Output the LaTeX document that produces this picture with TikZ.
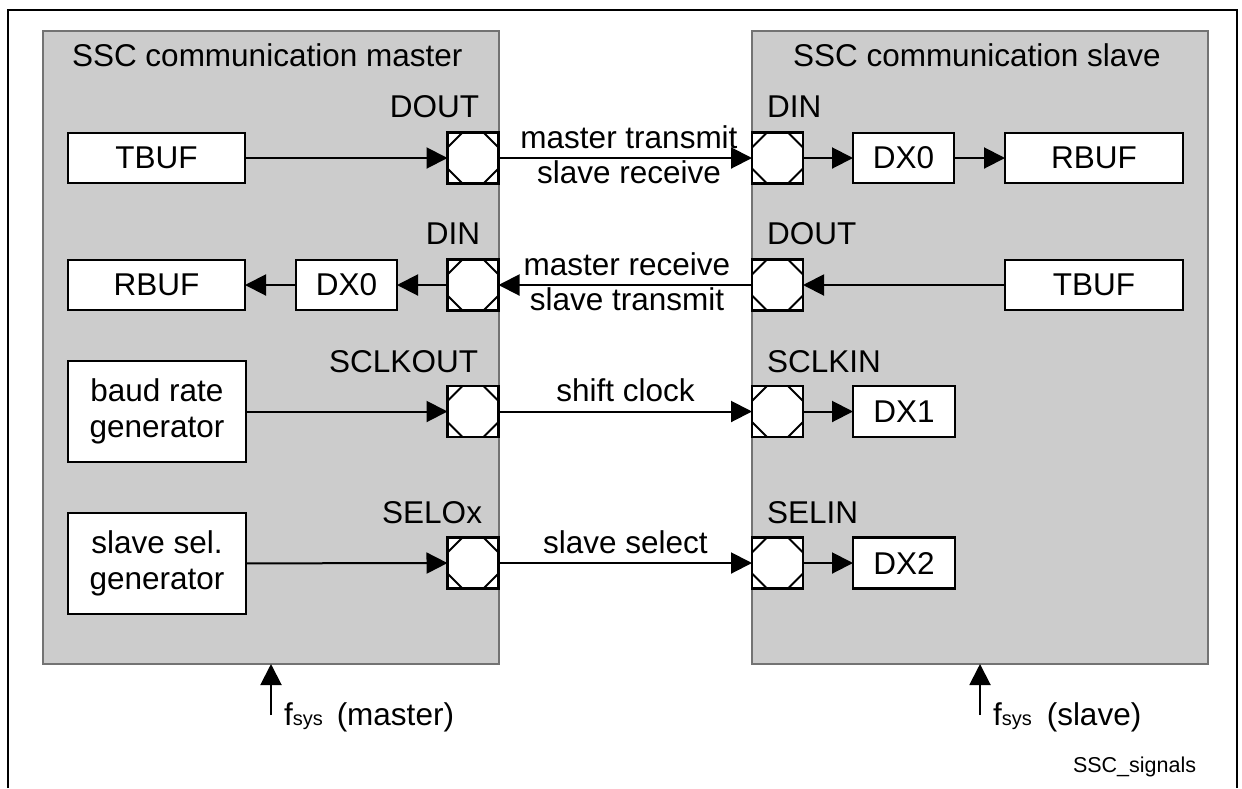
\documentclass[tikz,border=0pt]{standalone}
\usepackage{fontspec}
\setmainfont{Liberation Sans}
\usetikzlibrary{arrows.meta}
\newcommand\pinoct[1]{\draw[line width=1.8pt] (#1.north west) ++(15,0) -- ++(-15,15) (#1.north east) ++(-15,0) -- ++(15,15) (#1.south west) ++(15,0) -- ++(-15,-15) (#1.south east) ++(-15,0) -- ++(15,-15);}
\begin{document}
\begin{tikzpicture}[x=1pt,y=-1pt,
  every node/.style={font=\fontsize{31.5}{36}\selectfont, inner sep=0pt, outer sep=0pt},
  unit/.style={draw=black!55, fill=black!20, line width=1.6pt, minimum width=456pt, minimum height=633pt},
  blk/.style={draw, fill=white, line width=2.5pt, align=center, minimum height=50pt},
  pinbox/.style={draw, fill=white, line width=2.4pt, minimum size=51pt},
  conn/.style={line width=2pt, -{Triangle[length=21pt,width=21pt]}},
  small/.style={font=\fontsize{21.5}{24}\selectfont}
]
\useasboundingbox (0,0) rectangle (1242,788);
\draw[line width=2.2pt] (8,788) -- (8,10) -- (1237,10) -- (1237,788);

% units
\node[unit] (master) at (271,347.5) {};
\node[unit] (slave) at (980,347.5) {};
\node[anchor=base west] (mtitle) at (72,66) {SSC communication master};
\node[anchor=base west] (stitle) at (793,66) {SSC communication slave};

% master blocks
\node[blk, minimum width=177pt] (mtbuf) at (156.5,158) {TBUF};
\node[blk, minimum width=177pt] (mrbuf) at (156.5,285) {RBUF};
\node[blk, minimum width=101pt] (mdx0) at (346.5,285) {DX0};
\node[blk, minimum width=178pt, minimum height=101pt] (baud) at (157,411.5) {baud rate\\generator};
\node[blk, minimum width=178pt, minimum height=101pt] (ssg) at (157,563.5) {slave sel.\\generator};

% slave blocks
\node[blk, minimum width=101pt] (sdx0) at (903.5,158) {DX0};
\node[blk, minimum width=178pt] (srbuf) at (1094,158) {RBUF};
\node[blk, minimum width=178pt] (stbuf) at (1094,285) {TBUF};
\node[blk, minimum width=102pt, minimum height=51pt] (sdx1) at (904,411.5) {DX1};
\node[blk, minimum width=102pt, minimum height=51pt] (sdx2) at (904,563) {DX2};

% pins
\node[pinbox] (mdout) at (473,158) {};
\node[pinbox] (mdin) at (473,285) {};
\node[pinbox] (msclk) at (473,411.5) {};
\node[pinbox] (msel) at (473,563) {};
\node[pinbox] (sdin) at (777.5,158) {};
\node[pinbox] (sdout) at (777.5,285) {};
\node[pinbox] (ssclk) at (777.5,411.5) {};
\node[pinbox] (ssel) at (777.5,563) {};
\pinoct{mdout}\pinoct{mdin}\pinoct{msclk}\pinoct{msel}
\pinoct{sdin}\pinoct{sdout}\pinoct{ssclk}\pinoct{ssel}

% pin labels
\node[anchor=base east] (lmdout) at (479,117) {DOUT};
\node[anchor=base east] (lmdin) at (480,244) {DIN};
\node[anchor=base east] (lmsclk) at (478,372) {SCLKOUT};
\node[anchor=base east] (lmsel) at (482,523) {SELOx};
\node[anchor=base west] (lsdin) at (767,117) {DIN};
\node[anchor=base west] (lsdout) at (767,244) {DOUT};
\node[anchor=base west] (lssclk) at (767,372) {SCLKIN};
\node[anchor=base west] (lssel) at (767,523) {SELIN};

% signal labels
\node[anchor=base] (s1a) at (629,148) {master transmit};
\node[anchor=base] (s1b) at (629,183) {slave receive};
\node[anchor=base] (s2a) at (627,275) {master receive};
\node[anchor=base] (s2b) at (627,310) {slave transmit};
\node[anchor=base] (s3) at (625.5,401) {shift clock};
\node[anchor=base] (s4) at (625.5,553) {slave select};

% connectors
\draw[conn] (mtbuf) -- (mdout);
\draw[conn] (mdout) -- (sdin);
\draw[conn] (sdin) -- (sdx0);
\draw[conn] (sdx0) -- (srbuf);
\draw[conn] (stbuf) -- (sdout);
\draw[conn] (sdout) -- (mdin);
\draw[conn] (mdin) -- (mdx0);
\draw[conn] (mdx0) -- (mrbuf);
\draw[conn] (baud) -- (msclk);
\draw[conn] (msclk) -- (ssclk);
\draw[conn] (ssclk) -- (sdx1);
\draw[conn] (ssg) -- (msel);
\draw[conn] (msel) -- (ssel);
\draw[conn] (ssel) -- (sdx2);

% clocks
\coordinate (fm) at (271,715);
\coordinate (fs) at (980,715);
\draw[conn] (fm) -- (master);
\draw[conn] (fs) -- (slave);
\node[anchor=base west] (fml) at (284,725) {f{\fontsize{20}{20}\selectfont sys}\hspace{14pt}(master)};
\node[anchor=base west] (fsl) at (993,725) {f{\fontsize{20}{20}\selectfont sys}\hspace{15pt}(slave)};

\node[small, anchor=base west] (fig) at (1073,772) {SSC\_signals};
\end{tikzpicture}
\end{document}
